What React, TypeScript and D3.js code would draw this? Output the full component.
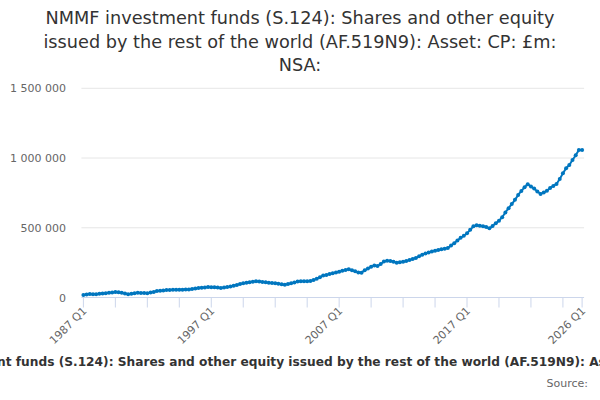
import * as d3 from "d3";

const TITLE_LINES = [
  "NMMF investment funds (S.124): Shares and other equity",
  "issued by the rest of the world (AF.519N9): Asset: CP: £m:",
  "NSA:",
];
const AXIS_TITLE =
  "NMMF investment funds (S.124): Shares and other equity issued by the rest of the world (AF.519N9): Asset: CP: £m: NSA:";
const SOURCE = "Source:";

const FIRST_YEAR = 1987;
// quarterly values, £m, 1987 Q1 .. 2026 Q1
const VALUES = [
  18000, 22000, 25000, 23000, // 1987
  24000, 26000, 28000, 30000, // 1988
  34000, 36000, 39000, 37000, // 1989
  34000, 28000, 24000, 27000, // 1990
  31000, 34000, 33000, 32000, // 1991
  31000, 35000, 40000, 46000, // 1992
  48000, 51000, 53000, 54000, // 1993
  55000, 55000, 56000, 56000, // 1994
  57000, 58000, 61000, 65000, // 1995
  68000, 70000, 72000, 75000, // 1996
  74000, 73000, 71000, 68000, // 1997
  72000, 76000, 78000, 84000, // 1998
  90000, 96000, 102000, 106000, // 1999
  110000, 113000, 116000, 115000, // 2000
  112000, 109000, 106000, 104000, // 2001
  102000, 99000, 95000, 92000, // 2002
  96000, 102000, 108000, 114000, // 2003
  116000, 116000, 117000, 118000, // 2004
  125000, 135000, 146000, 157000, // 2005
  162000, 168000, 173000, 179000, // 2006
  185000, 191000, 197000, 202000, // 2007
  196000, 188000, 180000, 178000, // 2008
  195000, 208000, 220000, 230000, // 2009
  226000, 240000, 258000, 264000, // 2010
  262000, 256000, 250000, 252000, // 2011
  257000, 262000, 268000, 276000, // 2012
  283000, 295000, 307000, 316000, // 2013
  322000, 329000, 335000, 341000, // 2014
  346000, 350000, 355000, 372000, // 2015
  389000, 408000, 428000, 443000, // 2016
  460000, 485000, 510000, 518000, // 2017
  514000, 511000, 505000, 496000, // 2018
  512000, 532000, 551000, 575000, // 2019
  610000, 640000, 670000, 700000, // 2020
  735000, 764000, 790000, 812000, // 2021
  795000, 781000, 760000, 743000, // 2022
  752000, 766000, 786000, 800000, // 2023
  814000, 850000, 890000, 927000, // 2024
  950000, 986000, 1020000, 1058000, // 2025
  1058000, // 2026
];

const Y_TICKS = [0, 500000, 1000000, 1500000];
const X_LABELS = ["1987 Q1", "1997 Q1", "2007 Q1", "2017 Q1", "2026 Q1"];

const WIDTH = 600;
const HEIGHT = 400;
const PLOT = { left: 83.4, right: 582.1, top: 88.3, bottom: 297.5 };
const LINE_COLOR = "#0076bf";
const FONT = "'DejaVu Sans', Verdana, sans-serif";

const fmt = d3
  .formatLocale({ decimal: ".", thousands: " ", grouping: [3], currency: ["", ""] })
  .format(",");

const quarterLabel = (i: number) =>
  `${FIRST_YEAR + Math.floor(i / 4)} Q${(i % 4) + 1}`;

export default function App() {
  const categories = VALUES.map((_, i) => quarterLabel(i));
  const data = VALUES.map((v, i) => ({ cat: categories[i], v }));

  const x = d3.scalePoint<string>().domain(categories).range([PLOT.left, PLOT.right]);
  const y = d3.scaleLinear().domain([0, 1500000]).range([PLOT.bottom, PLOT.top]);

  const line = d3
    .line<{ cat: string; v: number }>()
    .x((d) => x(d.cat)!)
    .y((d) => y(d.v));

  // tick marks every 10 quarters, plus the last one
  const tickIdx = d3.range(0, categories.length, 10);
  if (tickIdx[tickIdx.length - 1] !== categories.length - 1) tickIdx.push(categories.length - 1);

  return (
    <div style={{ position: "fixed", left: 0, top: 0, width: WIDTH, height: HEIGHT, background: "#fff" }}>
      <svg width={WIDTH} height={HEIGHT} style={{ display: "block", fontFamily: FONT }}>
        <rect width={WIDTH} height={HEIGHT} fill="#ffffff" />

        {/* title */}
        <text textAnchor="middle" fill="#333333" fontSize={17.7}>
          {TITLE_LINES.map((t, i) => (
            <tspan key={t} x={300} y={24 + i * 23.5}>
              {t}
            </tspan>
          ))}
        </text>

        {/* gridlines + y labels */}
        {Y_TICKS.map((t) => (
          <g key={t}>
            {t !== 0 && (
              <line x1={PLOT.left - 2} x2={PLOT.right + 2} y1={y(t)} y2={y(t)} stroke="#e6e6e6" strokeWidth={1} />
            )}
            <text x={66} y={y(t) + 4} textAnchor="end" fill="#666666" fontSize={11}>
              {fmt(t)}
            </text>
          </g>
        ))}

        {/* x axis line + ticks */}
        <line x1={PLOT.left - 2} x2={PLOT.right + 2} y1={PLOT.bottom} y2={PLOT.bottom} stroke="#ccd6eb" strokeWidth={1} />
        {tickIdx.map((i) => (
          <line
            key={i}
            x1={x(categories[i])}
            x2={x(categories[i])}
            y1={PLOT.bottom}
            y2={PLOT.bottom + 10}
            stroke="#ccd6eb"
            strokeWidth={1}
          />
        ))}
        {X_LABELS.map((lab) => {
          const px = x(lab)!;
          const py = PLOT.bottom + 14;
          return (
            <text
              key={lab}
              transform={`translate(${px + 4},${py}) rotate(-45)`}
              textAnchor="end"
              fill="#666666"
              fontSize={11}
            >
              {lab}
            </text>
          );
        })}

        {/* series */}
        <path d={line(data) ?? ""} fill="none" stroke={LINE_COLOR} strokeWidth={2} strokeLinejoin="round" />
        {data.map((d) => (
          <circle key={d.cat} cx={x(d.cat)} cy={y(d.v)} r={2} fill={LINE_COLOR} />
        ))}

        {/* axis title: wider than the chart, clipped at both edges as in the source */}
        <text x={307} y={366} textAnchor="middle" fill="#333333" fontSize={12.2} fontWeight="bold">
          {AXIS_TITLE}
        </text>

        {/* credit */}
        <text x={588} y={387} textAnchor="end" fill="#666666" fontSize={11}>
          {SOURCE}
        </text>
      </svg>
    </div>
  );
}
